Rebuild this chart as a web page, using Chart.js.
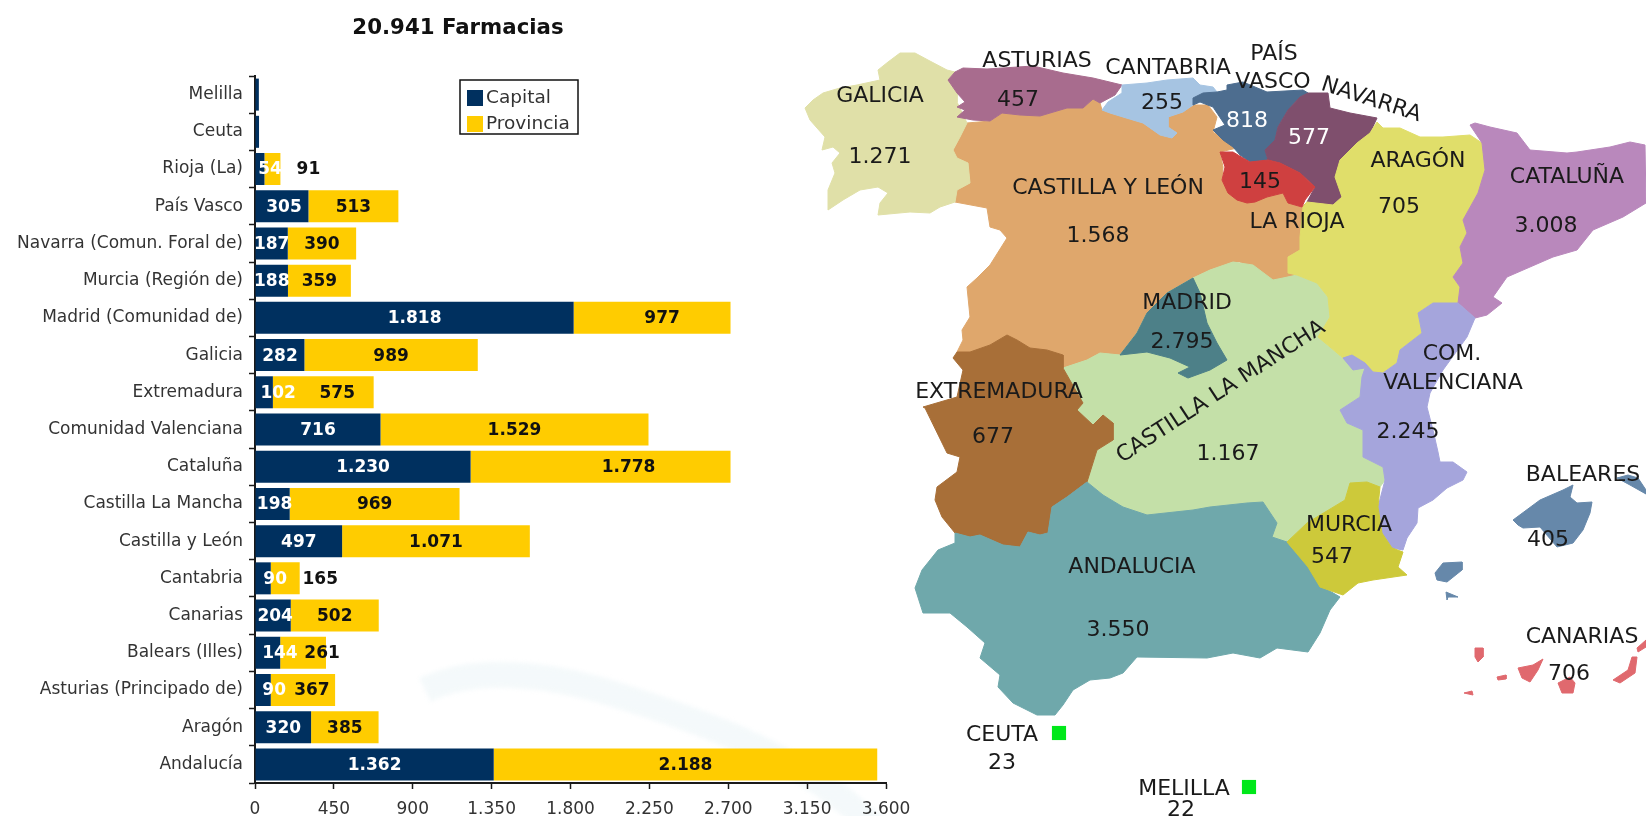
<!DOCTYPE html>
<html><head><meta charset="utf-8">
<style>html,body{margin:0;padding:0;background:#fff;overflow:hidden}
#wrap{position:relative;width:1646px;height:816px}
canvas{position:absolute;left:0;top:0;filter:blur(.45px)}</style>
<script src="https://cdn.jsdelivr.net/npm/chart.js@4/dist/chart.umd.min.js"></script>
</head><body><div id="wrap"><canvas id="bars" width="1646" height="816"></canvas><canvas id="map" width="1646" height="816"></canvas></div>
<script>
const chartTitle = '20.941 Farmacias';
const categories = ['Melilla','Ceuta','Rioja (La)','País Vasco','Navarra (Comun. Foral de)','Murcia (Región de)','Madrid (Comunidad de)','Galicia','Extremadura','Comunidad Valenciana','Cataluña','Castilla La Mancha','Castilla y León','Cantabria','Canarias','Balears (Illes)','Asturias (Principado de)','Aragón','Andalucía'];
const capital   = [22,23,54,305,187,188,1818,282,102,716,1230,198,497,90,204,144,90,320,1362];
// numbers printed on the bars
const provincia = [0,0,91,513,390,359,977,989,575,1529,1778,969,1071,165,502,261,367,385,2188];
// lengths as drawn: in the source the Madrid and Cataluña bars stop short of their printed numbers
const provinciaDrawn = [0,0,91,513,390,359,895,989,575,1529,1483,969,1071,165,502,261,367,385,2188];
const xTicks = [0,450,900,1350,1800,2250,2700,3150,3600];

// Nudges of data labels away from the segment centre (px), as in the source picture
const capitalNudge   = {2:10,3:2,4:0,5:0,8:14,11:2,13:12,14:2,15:12,16:11};
const provinciaNudge = {2:36,6:10,8:14,10:28,13:35,15:19,16:9};

// Map outlines, in map units
const galicia=[[900,53],[915,53],[928,60],[947,70],[955,72],[948,80],[957,93],[957,102],[967,123],[960,137],[953,150],[957,158],[968,163],[970,183],[957,190],[955,202],[940,207],[930,213],[910,212],[878,215],[880,203],[888,193],[878,187],[860,190],[843,200],[828,210],[828,190],[835,173],[832,163],[840,153],[833,147],[822,150],[825,137],[817,128],[810,120],[805,108],[813,100],[823,93],[840,88],[857,85],[880,80],[878,70],[888,62]];
const asturias=[[948,80],[955,72],[963,68],[987,69],[1033,66],[1063,73],[1093,78],[1122,85],[1115,95],[1100,103],[1093,99],[1083,108],[1067,108],[1040,116],[1020,115],[1002,113],[990,121],[973,120],[957,117],[965,110],[957,107],[965,102],[957,93]];
const cantabria=[[1122,85],[1147,83],[1167,80],[1193,78],[1200,85],[1213,87],[1217,92],[1203,93],[1193,98],[1193,105],[1183,112],[1168,117],[1168,127],[1177,133],[1172,138],[1160,135],[1143,123],[1123,117],[1110,113],[1102,110],[1108,102],[1122,93]];
const paisVasco=[[1227,85],[1243,82],[1267,92],[1303,90],[1308,93],[1300,97],[1288,110],[1278,127],[1275,140],[1265,150],[1268,160],[1250,162],[1240,155],[1233,147],[1223,140],[1213,130],[1225,125],[1213,107],[1200,102],[1193,105],[1193,98],[1203,93],[1217,92],[1227,90]];
const navarra=[[1308,93],[1328,93],[1330,108],[1350,113],[1377,118],[1370,133],[1357,143],[1340,160],[1335,177],[1342,197],[1333,205],[1307,202],[1315,187],[1300,173],[1280,163],[1268,160],[1265,150],[1275,140],[1278,127],[1288,110],[1300,97]];
const rioja=[[1220,152],[1233,152],[1243,158],[1250,162],[1268,160],[1280,163],[1300,173],[1315,187],[1305,200],[1302,207],[1288,203],[1283,193],[1267,197],[1255,202],[1247,203],[1237,200],[1228,193],[1222,180],[1225,167]];
const castillaLeon=[[967,123],[990,121],[1002,113],[1020,115],[1040,116],[1067,108],[1083,108],[1093,99],[1100,103],[1102,110],[1110,113],[1123,117],[1143,123],[1160,135],[1172,138],[1177,133],[1168,127],[1168,117],[1183,112],[1193,105],[1208,105],[1217,117],[1213,132],[1237,148],[1220,152],[1223,167],[1222,180],[1230,193],[1247,202],[1283,193],[1288,203],[1302,207],[1307,202],[1300,237],[1300,250],[1288,257],[1288,273],[1297,275],[1283,278],[1270,282],[1257,272],[1240,262],[1233,262],[1210,270],[1193,278],[1167,293],[1147,313],[1137,333],[1120,355],[1100,353],[1087,360],[1063,368],[1063,355],[1047,350],[1030,348],[1017,340],[1007,335],[990,345],[970,352],[957,352],[963,340],[962,330],[970,317],[967,287],[977,278],[990,265],[1007,238],[1000,230],[990,227],[987,208],[955,202],[957,190],[970,183],[968,163],[957,158],[953,150],[960,137]];
const aragon=[[1377,122],[1383,128],[1400,128],[1420,137],[1443,137],[1470,135],[1482,143],[1485,170],[1478,193],[1463,220],[1467,233],[1460,247],[1463,263],[1453,277],[1460,287],[1458,303],[1433,303],[1418,313],[1422,333],[1400,350],[1397,363],[1383,373],[1373,372],[1363,367],[1343,358],[1330,347],[1318,337],[1330,317],[1328,297],[1317,283],[1297,275],[1288,273],[1288,257],[1300,250],[1300,237],[1303,207],[1307,202],[1333,205],[1342,197],[1335,177],[1340,160],[1357,143],[1370,133]];
const cataluna=[[1470,125],[1475,123],[1490,127],[1517,133],[1530,150],[1567,153],[1577,152],[1610,147],[1630,142],[1645,145],[1646,203],[1623,217],[1593,230],[1577,250],[1553,257],[1530,267],[1507,277],[1493,297],[1502,303],[1487,315],[1475,318],[1458,303],[1460,287],[1453,277],[1463,263],[1460,247],[1467,233],[1463,220],[1478,193],[1485,170],[1482,143]];
const valenciana=[[1418,313],[1433,303],[1458,303],[1475,318],[1467,337],[1443,370],[1430,393],[1427,407],[1433,430],[1438,452],[1440,462],[1453,462],[1467,472],[1463,480],[1447,488],[1433,500],[1418,508],[1417,523],[1407,538],[1403,550],[1392,548],[1382,533],[1378,507],[1385,480],[1383,467],[1363,457],[1363,430],[1347,423],[1340,410],[1360,397],[1362,377],[1365,368],[1353,370],[1343,358],[1352,355],[1365,363],[1373,372],[1383,373],[1397,363],[1400,350],[1422,333]];
const castillaMancha=[[1193,278],[1210,270],[1233,262],[1253,265],[1273,280],[1283,278],[1297,275],[1317,283],[1328,297],[1330,317],[1318,337],[1343,358],[1365,368],[1360,397],[1340,410],[1347,423],[1363,430],[1363,457],[1383,467],[1385,480],[1380,487],[1367,482],[1350,483],[1345,500],[1307,523],[1287,542],[1272,537],[1277,523],[1263,502],[1247,503],[1210,507],[1193,510],[1147,515],[1123,507],[1103,495],[1087,482],[1097,450],[1113,440],[1113,423],[1103,415],[1093,425],[1077,410],[1083,403],[1063,368],[1087,360],[1100,353],[1120,355],[1137,333],[1147,313],[1167,293]];
const extremadura=[[1063,355],[1063,368],[1083,403],[1077,410],[1093,425],[1103,415],[1113,423],[1113,440],[1097,450],[1087,482],[1067,497],[1052,507],[1048,533],[1040,535],[1028,532],[1020,547],[1003,545],[980,535],[970,537],[955,533],[942,517],[935,500],[937,487],[957,472],[960,457],[947,453],[925,408],[923,407],[957,397],[963,370],[953,358],[957,352],[970,352],[990,345],[1007,335],[1017,340],[1030,348],[1047,350]];
const andalucia=[[1087,482],[1103,495],[1123,507],[1147,515],[1193,510],[1210,507],[1247,503],[1263,502],[1277,523],[1272,537],[1287,542],[1310,567],[1323,587],[1340,597],[1330,610],[1320,633],[1308,652],[1277,648],[1260,658],[1233,653],[1207,658],[1137,657],[1123,673],[1110,678],[1090,680],[1073,690],[1063,705],[1055,715],[1037,715],[1013,703],[998,687],[1000,675],[980,658],[985,643],[967,627],[950,613],[923,613],[915,588],[922,570],[938,550],[955,543],[955,533],[970,537],[980,535],[1003,545],[1020,547],[1028,532],[1040,535],[1048,533],[1052,507],[1067,497]];
const murcia=[[1350,483],[1367,482],[1380,487],[1378,507],[1382,533],[1392,548],[1403,552],[1398,567],[1407,575],[1373,580],[1358,583],[1343,595],[1320,587],[1308,567],[1287,542],[1307,523],[1345,500]];
const madrid=[[1193,278],[1200,293],[1207,323],[1217,343],[1227,360],[1210,370],[1188,378],[1178,373],[1190,367],[1170,358],[1147,352],[1120,355],[1137,333],[1147,313],[1167,293]];
const mallorca=[[1513,520],[1540,500],[1563,490],[1573,485],[1570,497],[1577,503],[1592,502],[1590,513],[1583,530],[1573,543],[1557,547],[1540,527],[1523,528],[1518,525]];
const menorca=[[1617,478],[1628,475],[1638,478],[1646,490],[1646,494],[1630,485]];
const ibiza=[[1435,573],[1443,563],[1462,562],[1462,570],[1447,582],[1437,580]];
const formentera=[[1446,592],[1458,597],[1448,597],[1447,600]];
const laPalma=[[1475,648],[1483,648],[1483,657],[1478,662],[1475,657]];
const gomera=[[1497,677],[1506,675],[1506,679],[1498,680]];
const tenerife=[[1518,668],[1533,665],[1543,659],[1538,670],[1530,682],[1522,678]];
const granCanaria=[[1558,683],[1570,677],[1575,683],[1573,693],[1562,693]];
const hierro=[[1464,693],[1472,691],[1473,695]];
const fuerteventura=[[1613,680],[1628,670],[1632,657],[1637,657],[1635,673],[1620,683]];
const lanzarote=[[1637,648],[1646,640],[1646,647],[1638,652]];
const ceutaMark=[[1059,733]];
const melillaMark=[[1249,787]];

// drawn in this order, later on top
const regionLayers=[
 [castillaLeon,'#dfa76c'],[galicia,'#e0e0a8'],[asturias,'#a86c8e'],[cantabria,'#a6c4e2'],[paisVasco,'#4d6d8f'],[navarra,'#7f4f6d'],[rioja,'#cf4040'],
 [castillaMancha,'#c4e0a8'],[aragon,'#e0de6a'],[cataluna,'#b988bc'],[valenciana,'#a5a5dc'],[extremadura,'#a86f38'],[andalucia,'#6fa8ab'],[murcia,'#cdc93a'],[madrid,'#4d8088'],
 [mallorca,'#6688aa'],[menorca,'#6688aa'],[ibiza,'#6688aa'],[formentera,'#6688aa'],
 [laPalma,'#e0696e'],[gomera,'#e0696e'],[tenerife,'#e0696e'],[granCanaria,'#e0696e'],[hierro,'#e0696e'],[fuerteventura,'#e0696e'],[lanzarote,'#e0696e']];

// text, x, y, angle, colour
const mapTexts=[
 ['GALICIA',880,96],['1.271',880,157],['ASTURIAS',1037,61],['457',1018,100],['CANTABRIA',1168,68],['255',1162,103],
 ['PAÍS',1274,54],['VASCO',1273,82],['818',1247,121,0,'#fff'],['NAVARRA',1371,100,18],['577',1309,138,0,'#fff'],['145',1260,182],['LA RIOJA',1297,222],
 ['CASTILLA Y LEÓN',1108,188],['1.568',1098,236],['MADRID',1187,303],['2.795',1182,342],['ARAGÓN',1418,161],['705',1399,207],['CATALUÑA',1567,177],['3.008',1546,226],
 ['COM.',1452,354],['VALENCIANA',1453,383],['2.245',1408,432],['EXTREMADURA',999,392],['677',993,437],['CASTILLA LA MANCHA',1221,392,-33],['1.167',1228,454],
 ['MURCIA',1349,525],['547',1332,557],['ANDALUCIA',1132,567],['3.550',1118,630],['BALEARES',1583,475],['405',1548,540],['CANARIAS',1582,637],['706',1569,674],
 ['CEUTA',1002,735],['23',1002,763],['MELILLA',1184,789],['22',1181,810]];

const fmt=v=>String(v).replace(/\B(?=(\d{3})+$)/g,'.');
const SANS='"DejaVu Sans", sans-serif';
const NAVY='#00305f', GOLD='#ffcc00', AXIS='#1a1a1a';

function dotPattern(k){
 const t=document.createElement('canvas');t.width=t.height=6;const g=t.getContext('2d');
 g.fillStyle='#f9fcfd';g.fillRect(0,0,6,6);g.fillStyle='#e9f3f6';
 g.beginPath();g.arc(1.5,1.5,1.3,0,7);g.arc(4.5,4.5,1.3,0,7);g.fill();
 return k.createPattern(t,'repeat');
}
const overlay={id:'overlay',
 beforeDraw(c){ // faint dotted watermark swoosh, under the axes and their text
  const k=c.ctx;k.save();k.filter='blur(2px)';k.strokeStyle=dotPattern(k);k.lineWidth=26;k.lineCap='butt';
  k.beginPath();k.moveTo(425,690);k.bezierCurveTo(470,668,540,670,620,696);k.bezierCurveTo(690,718,770,745,837,795);k.lineTo(885,835);k.stroke();k.restore();
 },
 afterDatasetsDraw(c){
  const k=c.ctx;k.save();k.textAlign='center';k.textBaseline='middle';
  [capital,provincia].forEach((vals,di)=>{
   const meta=c.getDatasetMeta(di),nudge=di===0?capitalNudge:provinciaNudge;
   k.fillStyle=di===0?'#fff':'#111';k.font='bold 17px '+SANS;
   meta.data.forEach((bar,i)=>{
    if(!vals[i]||vals[i]<50) return;
    const cx=(bar.x+bar.base)/2+(nudge[i]||0);
    k.fillText(fmt(vals[i]),cx,bar.y+1);
   });
  });
  // title
  k.fillStyle='#111';k.font='bold 21.3px '+SANS;k.fillText(chartTitle,458,28);
  // legend
  k.strokeStyle='#111';k.lineWidth=1.5;k.fillStyle='#fff';k.fillRect(460,80,118,54);k.strokeRect(460,80,118,54);
  k.textAlign='left';k.font='18.5px '+SANS;
  c.data.datasets.forEach((ds,i)=>{const y=98+i*26;k.fillStyle=ds.backgroundColor;k.fillRect(467,y-8,16,16);k.fillStyle='#333';k.fillText(ds.label,486,y);});
  k.restore();
 }};

new Chart(document.getElementById('bars'),{type:'bar',
 data:{labels:categories,datasets:[
  {label:'Capital',data:capital,backgroundColor:NAVY,stack:'s',barPercentage:.86,categoryPercentage:1},
  {label:'Provincia',data:provinciaDrawn,backgroundColor:GOLD,stack:'s',barPercentage:.86,categoryPercentage:1}]},
 plugins:[overlay],
 options:{indexAxis:'y',responsive:false,animation:false,events:[],
  layout:{padding:{top:76,right:760,left:0,bottom:0}},
  plugins:{legend:{display:false},tooltip:{enabled:false},title:{display:false}},
  scales:{
   x:{type:'linear',stacked:true,min:0,max:3600,afterFit:s=>{s.height=33},afterBuildTicks:s=>{s.ticks=xTicks.map(v=>({value:v}))},
      border:{color:AXIS,width:2},grid:{drawOnChartArea:false,tickColor:AXIS,tickLength:6,tickWidth:1.5},
      ticks:{color:'#333',font:{family:SANS,size:17},padding:10,maxRotation:0,autoSkip:false,callback:v=>fmt(v)}},
   y:{type:'category',stacked:true,afterFit:s=>{s.width=255},
      border:{color:AXIS,width:2},grid:{offset:true,drawOnChartArea:false,tickColor:AXIS,tickLength:6,tickWidth:1.5},
      ticks:{color:'#333',font:{family:SANS,size:17},padding:6,autoSkip:false}}
  }}});

const mapTextPlugin={id:'mapText',afterDatasetsDraw(c){
 const k=c.ctx,X=c.scales.x,Y=c.scales.y;k.save();k.textAlign='center';k.textBaseline='middle';k.font='22px '+SANS;
 mapTexts.forEach(([t,x,y,a,col])=>{k.save();k.translate(X.getPixelForValue(x),Y.getPixelForValue(y));if(a)k.rotate(a*Math.PI/180);k.fillStyle=col||'#1a1a1a';k.fillText(t,0,0);k.restore();});
 k.restore();}};

const toPts=a=>a.map(([x,y])=>({x,y}));
const regionSets=regionLayers.map(([o,col])=>({data:toPts(o.concat([o[0]])),showLine:true,fill:'shape',backgroundColor:col,borderColor:col,borderWidth:1,pointRadius:0,tension:0,clip:false}));
const markSets=[ceutaMark,melillaMark].map(o=>({data:toPts(o),showLine:false,pointStyle:'rect',pointRadius:10,backgroundColor:'#00e81a',borderWidth:0}));

new Chart(document.getElementById('map'),{type:'scatter',
 data:{datasets:markSets.concat(regionSets.slice().reverse())},
 plugins:[mapTextPlugin],
 options:{responsive:false,animation:false,events:[],layout:{padding:0,autoPadding:false},
  plugins:{legend:{display:false},tooltip:{enabled:false}},
  scales:{x:{type:'linear',min:0,max:1646,display:false},y:{type:'linear',min:0,max:816,reverse:true,display:false}}}});
</script></body></html>
